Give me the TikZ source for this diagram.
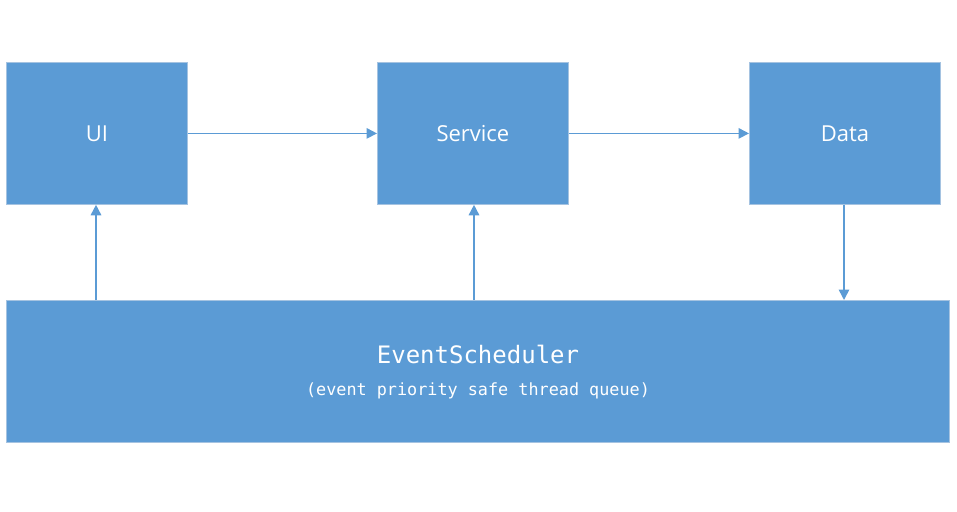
\documentclass[tikz,border=0pt]{standalone}
\usepackage{fontspec}
\setmainfont{Open Sans}
\newfontfamily\monof{DejaVu Sans Mono}
\usetikzlibrary{arrows.meta}
\definecolor{boxfill}{RGB}{91,155,213}
\definecolor{boxedge}{RGB}{165,195,225}
\definecolor{linecol}{RGB}{91,155,213}
\tikzset{
  blk/.style={fill=boxfill, draw=boxedge, line width=0.8pt, inner sep=0pt, text=white, anchor=north west},
  conn/.style={draw=linecol, line width=1.6pt, -{Triangle[length=10.5pt,width=10.5pt]}}
}
\begin{document}
\begin{tikzpicture}[x=1pt,y=-1pt]
\useasboundingbox (0,0) rectangle (957,511);
\node[blk, minimum width=181pt, minimum height=142pt, font=\fontsize{22}{26}\selectfont] (ui) at (6,62) {UI};
\node[blk, minimum width=191pt, minimum height=142pt, font=\fontsize{22}{26}\selectfont] (svc) at (377,62) {Service};
\node[blk, minimum width=191pt, minimum height=142pt, font=\fontsize{22}{26}\selectfont] (data) at (749,62) {Data};
\node[blk, minimum width=943pt, minimum height=142pt] (ev) at (6,300) {};
\node[text=white, font=\monof\fontsize{24}{28}\selectfont] (evt) at (478,354) {EventScheduler};
\node[text=white, font=\monof\fontsize{16.8}{20}\selectfont] (evs) at (478,390.5) {(event priority safe thread queue)};
\coordinate (uib) at (96,300);
\coordinate (svb) at (474,300);
\coordinate (dab) at (844,300);
\draw[conn] (ui.east) -- (svc.west);
\draw[conn] (svc.east) -- (data.west);
\draw[conn] (uib) -- (uib |- ui.south);
\draw[conn] (svb) -- (svb |- svc.south);
\draw[conn] (dab |- data.south) -- (dab);
\end{tikzpicture}
\end{document}
